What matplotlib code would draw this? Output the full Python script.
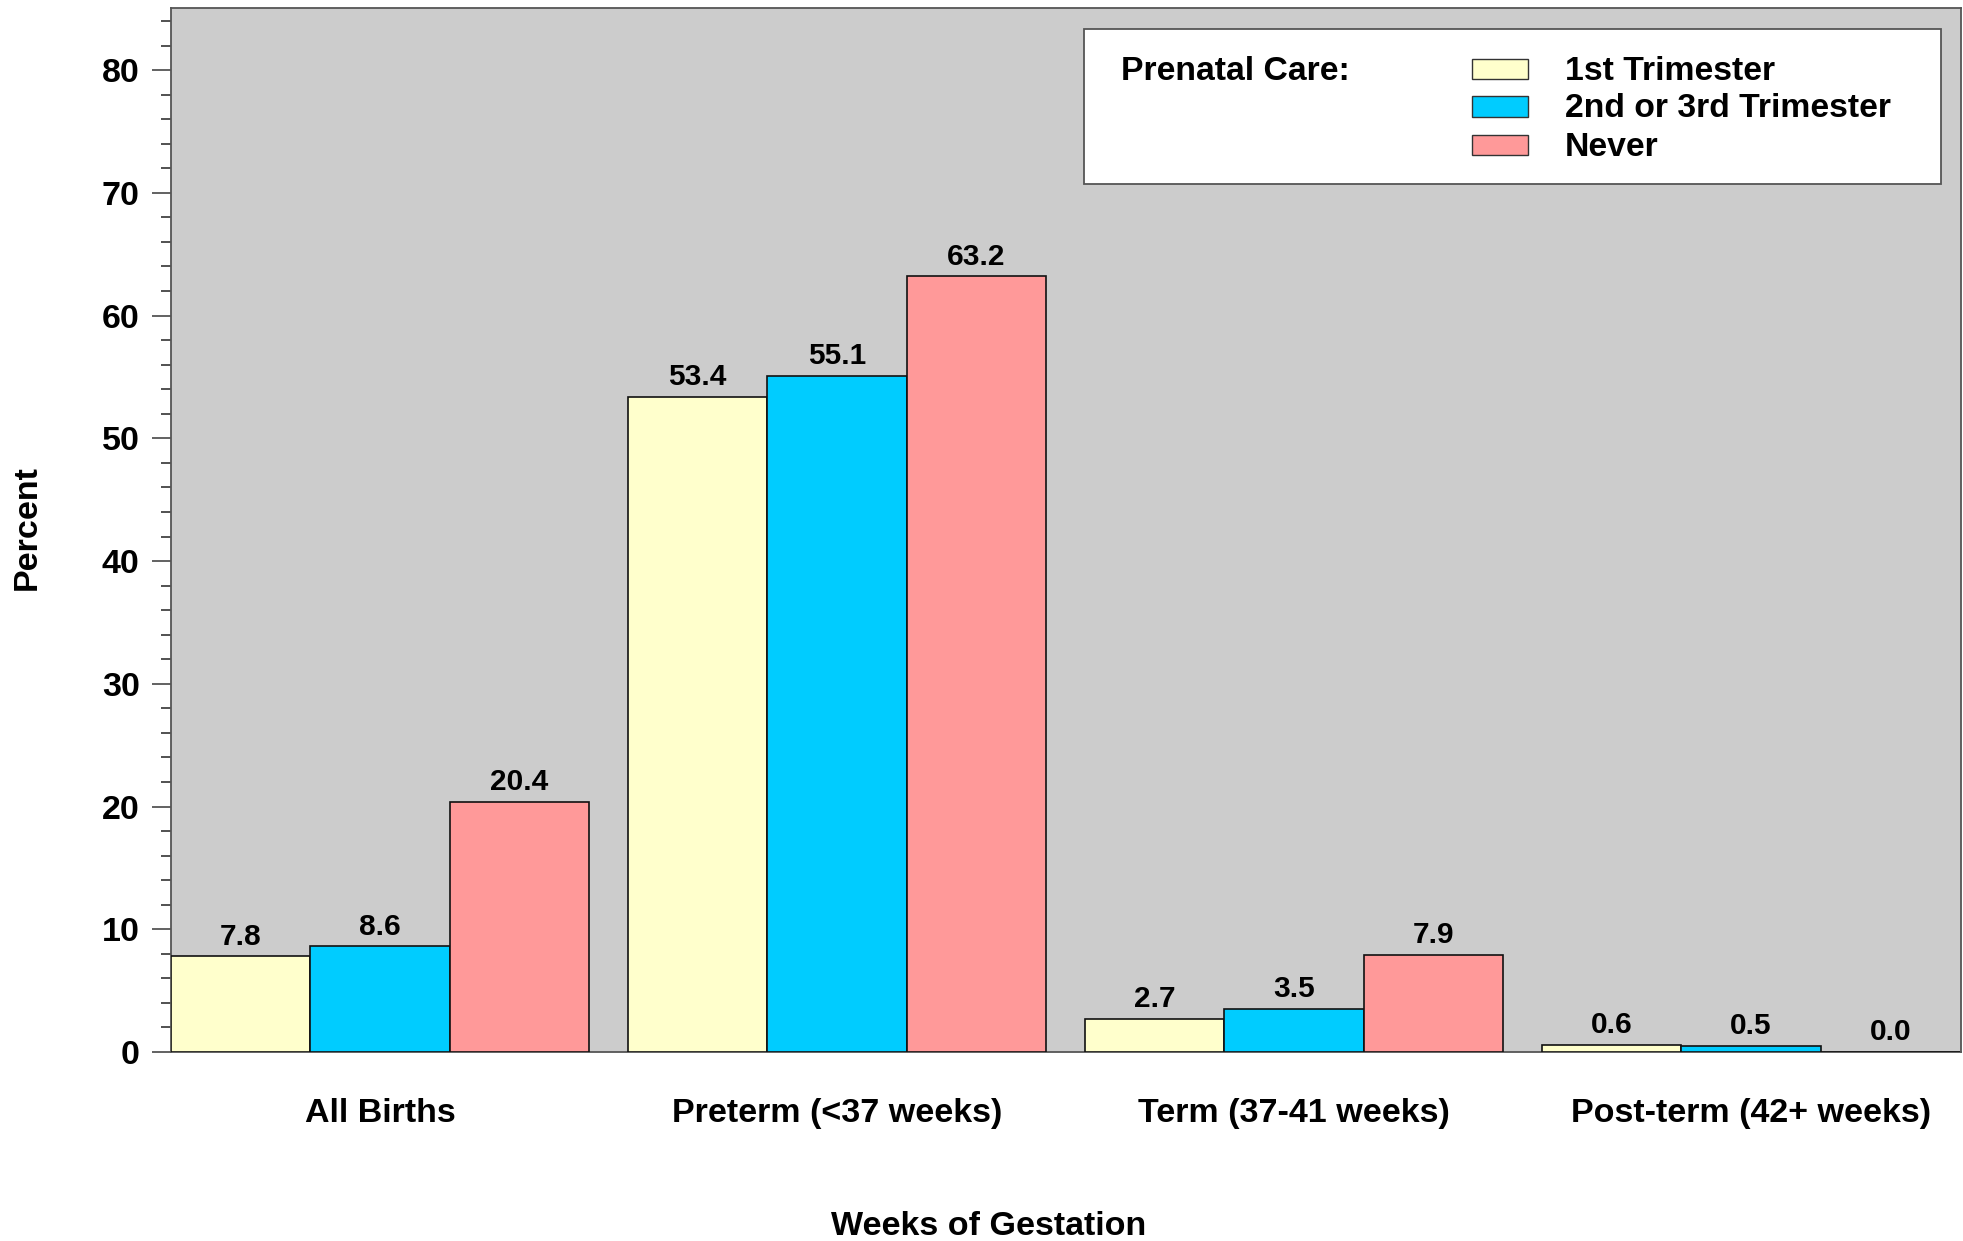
import matplotlib
matplotlib.use("Agg")
import matplotlib.pyplot as plt
import numpy as np
from matplotlib.patches import Rectangle
from matplotlib.ticker import MultipleLocator

plt.rcParams['font.family'] = ['Liberation Sans', 'DejaVu Sans']
plt.rcParams['font.weight'] = 'bold'

categories = ["All Births", "Preterm (<37 weeks)", "Term (37-41 weeks)", "Post-term (42+ weeks)"]
series_names = ["1st Trimester", "2nd or 3rd Trimester", "Never"]
first_tri = [7.8, 53.4, 2.7, 0.6]
second_third_tri = [8.6, 55.1, 3.5, 0.5]
never = [20.4, 63.2, 7.9, 0.0]
series = [first_tri, second_third_tri, never]
colors = ["#FFFFCC", "#00CCFF", "#FF9999"]

W, H = 1963, 1241
fig = plt.figure(figsize=(W / 100, H / 100), dpi=100)
ax = fig.add_axes([171 / W, (H - 1052) / H, 1790 / W, (1052 - 7.5) / H])
ax.set_facecolor("#CCCCCC")

x = np.arange(len(categories))
bw = 0.305
for i, (vals, c) in enumerate(zip(series, colors)):
    pos = x + (i - 1) * bw
    ax.bar(pos, vals, width=bw, color=c, edgecolor="#111111", linewidth=1.2, zorder=3)
    for p, v in zip(pos, vals):
        ax.annotate(f"{v:.1f}", (p, v), xytext=(0, 4), textcoords="offset points",
                    ha="center", va="bottom", fontsize=21.5, fontweight="bold", zorder=4)

ax.set_xlim(-1.5 * bw, -1.5 * bw + 1790 / 457)
ax.set_ylim(0, 85.1)
ax.yaxis.set_major_locator(MultipleLocator(10))
ax.yaxis.set_minor_locator(MultipleLocator(2))
ax.tick_params(axis="y", which="major", length=13.5, width=1.3, color="#555555",
               labelsize=24.5, pad=9)
ax.tick_params(axis="y", which="minor", length=7, width=1.1, color="#222222")
ax.set_xticks(x)
ax.set_xticklabels(categories, fontsize=24.5, fontweight="bold")
ax.tick_params(axis="x", length=0, pad=33)
for sp in ax.spines.values():
    sp.set_color("#555555")
    sp.set_linewidth(1.3)

ax.set_ylabel("Percent", fontsize=24.5, fontweight="bold")
ax.yaxis.label.set_va("center")
ax.yaxis.set_label_coords(-0.0802, 0.5017)
ax.set_xlabel("Weeks of Gestation", fontsize=24.5, fontweight="bold")
ax.xaxis.label.set_va("center")
ax.xaxis.set_label_coords(0.457, -0.1675)

def fx(px):
    return px / W

def fy(py):
    return 1 - py / H

fig.patches.append(Rectangle((fx(1084), fy(184)), fx(1941) - fx(1084), fy(29) - fy(184),
                             transform=fig.transFigure, facecolor="white",
                             edgecolor="#555555", linewidth=1.3, zorder=5))
fig.text(fx(1121), fy(71), "Prenatal Care:", fontsize=24.3, fontweight="bold",
         ha="left", va="center", zorder=6)
rows = [69, 106.5, 145]
for name, c, ry in zip(series_names, colors, rows):
    fig.patches.append(Rectangle((fx(1472), fy(ry + 10)), fx(1528) - fx(1472), fy(ry - 10) - fy(ry + 10),
                                 transform=fig.transFigure, facecolor=c,
                                 edgecolor="#333333", linewidth=1.0, zorder=6))
    fig.text(fx(1565), fy(ry + 2), name, fontsize=24.3, fontweight="bold",
             ha="left", va="center", zorder=6)

fig.savefig("out.png", dpi=100)
